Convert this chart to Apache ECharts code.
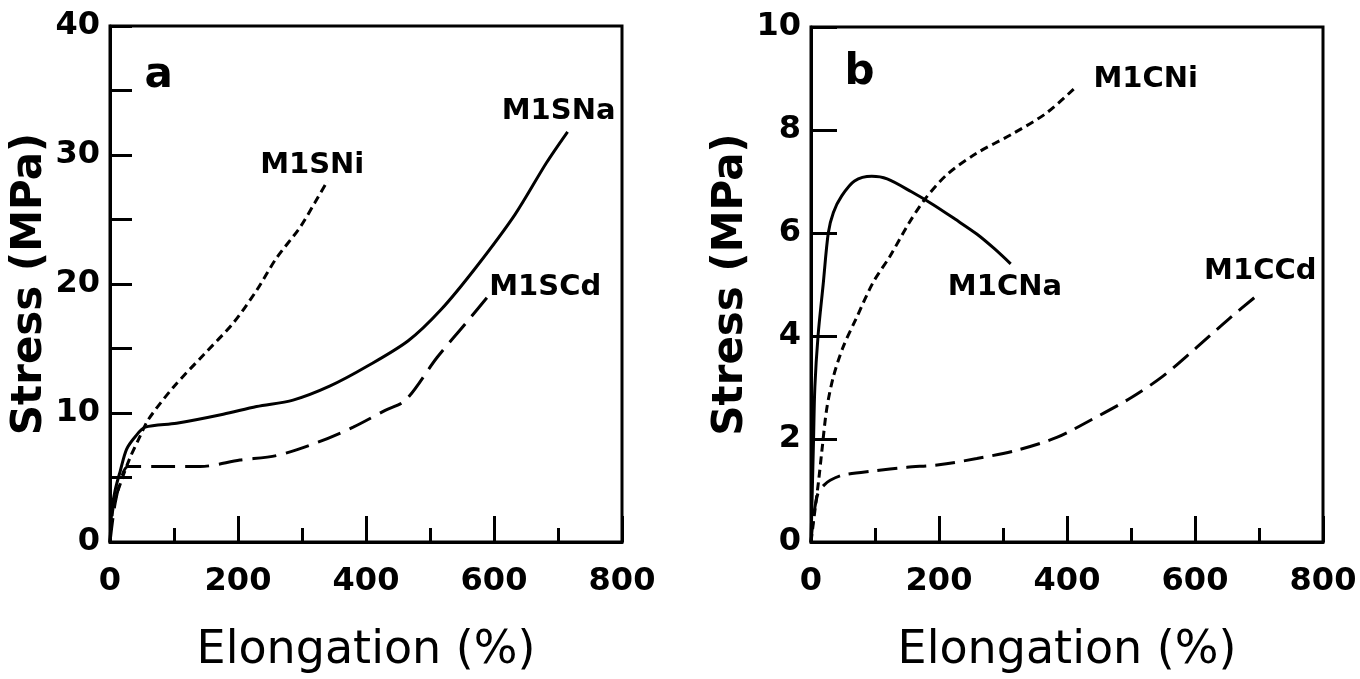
<!DOCTYPE html>
<html>
<head>
<meta charset="utf-8">
<script src="https://cdn.jsdelivr.net/npm/echarts@6/dist/echarts.min.js"></script>
<style>
html,body{margin:0;padding:0;background:#fff;}
#main{width:1360px;height:679px;}
</style>
</head>
<body>
<div id="main"></div>
<script>
// panel a: stress-strain, series as [elongation %, stress MPa]
var sNa = [[0,0],[3,2.5],[8,4],[16,5.5],[26,7.2],[40,8.2],[55,8.9],[104,9.2],[177,9.9],[229,10.5],[286,11],[344,12.1],[401,13.6],[466,15.6],[517,18],[572,21.3],[633,25.4],[682,29.4],[715,31.8]];
var sNi = [[0,0],[5,2.7],[16,4.5],[31,6.5],[47,8.2],[60,9.5],[99,12],[146,14.5],[193,17],[229,19.5],[260,22],[297,24.4],[320,26.3],[340,28]];
var sCd = [[0,0],[8,3],[18,5],[28,5.85],[73,5.85],[141,5.85],[203,6.35],[260,6.7],[323,7.7],[380,8.9],[430,10.2],[462,11],[511,14.3],[555,16.9],[590,19]];

// panel b
var cNa = [[0,0],[2,1],[4,2],[6,3],[11,4],[19,5],[27,6],[35,6.4],[48,6.72],[68,7.01],[95,7.1],[119,7.05],[157,6.8],[191,6.55],[225,6.27],[259,5.98],[287,5.69],[312,5.4]];
var cNi = [[0,0],[6,0.6],[12,1.2],[17,1.77],[24.5,2.58],[35,3.21],[50,3.78],[71,4.35],[97,5.04],[123,5.54],[152,6.17],[177,6.64],[212,7.13],[259,7.55],[314,7.92],[368,8.33],[416,8.86]];
var cCd = [[0,0],[4,0.5],[11,0.95],[20,1.1],[30,1.2],[50,1.3],[97,1.38],[150,1.45],[200,1.5],[259,1.62],[321,1.78],[384,2.03],[436,2.36],[500,2.8],[550,3.22],[600,3.75],[650,4.3],[703,4.85]];

// text labels inside plots: [text, x, y, panel]
var notes = [
	['a', 76, 36.1, 0],
	['M1SNa', 701, 33.4, 0],
	['M1SNi', 316, 29.2, 0],
	['M1SCd', 680, 19.7, 0],
	['b', 76, 9.1, 1],
	['M1CNi', 523, 8.98, 1],
	['M1CNa', 303, 4.94, 1],
	['M1CCd', 702, 5.25, 1]
];

var FONT = 'DejaVu Sans';
var chart = echarts.init(document.getElementById('main'));

function xAx(idx) {
	return {
		gridIndex: idx, type: 'value', min: 0, max: 800, interval: 200,
		name: 'Elongation (%)', nameLocation: 'middle', nameGap: 86,
		nameTextStyle: {fontFamily: FONT, fontSize: 46, color: '#000'},
		axisLine: {lineStyle: {color: '#000', width: 3}},
		axisTick: {inside: true, length: 26, lineStyle: {color: '#000', width: 3}},
		minorTick: {show: true, splitNumber: 2, length: 14, lineStyle: {color: '#000', width: 3}},
		axisLabel: {fontFamily: FONT, fontWeight: 'bold', fontSize: 32, color: '#000', margin: 24},
		splitLine: {show: false}
	};
}
function yAx(idx, max, step, minor, tlen) {
	return {
		gridIndex: idx, type: 'value', min: 0, max: max, interval: step,
		name: 'Stress (MPa)', nameLocation: 'middle', nameGap: 46,
		nameTextStyle: {fontFamily: FONT, fontWeight: 'bold', fontSize: 42, color: '#000'},
		axisLine: {lineStyle: {color: '#000', width: 3}},
		axisTick: {inside: true, length: tlen, lineStyle: {color: '#000', width: 3}},
		minorTick: {show: minor, splitNumber: 2, length: tlen, lineStyle: {color: '#000', width: 3}},
		axisLabel: {fontFamily: FONT, fontWeight: 'bold', fontSize: 32, color: '#000', margin: 10},
		splitLine: {show: false}
	};
}
function line(data, idx, dash) {
	return {
		type: 'line', xAxisIndex: idx, yAxisIndex: idx, data: data,
		smooth: 0.3, showSymbol: false, symbol: 'none',
		lineStyle: {color: '#000', width: 3, type: dash}
	};
}

var option = {
	backgroundColor: '#fff',
	animation: false,
	grid: [
		{left: 110, top: 26, width: 512, height: 530, show: true, borderColor: '#000', borderWidth: 3},
		{left: 811, top: 27, width: 512, height: 530, show: true, borderColor: '#000', borderWidth: 3}
	],
	xAxis: [xAx(0), xAx(1)],
	yAxis: [yAx(0, 40, 10, true, 22), yAx(1, 10, 2, false, 26)],
	series: [
		line(sNa, 0, 'solid'),
		line(sNi, 0, [8, 5]),
		line(sCd, 0, [24, 10]),
		line(cNa, 1, 'solid'),
		line(cNi, 1, [8, 5]),
		line(cCd, 1, [20, 9])
	]
};
chart.setOption(option);

var gr = [];
for (var i = 0; i < notes.length; i++) {
	var p = chart.convertToPixel({gridIndex: notes[i][3]}, [notes[i][1], notes[i][2]]);
	var big = notes[i][0].length == 1;
	gr.push({
		type: 'text', x: p[0], y: p[1],
		style: {
			text: notes[i][0], fill: '#000', align: 'center', verticalAlign: 'middle',
			font: 'bold ' + (big ? 42 : 29) + 'px "' + FONT + '"'
		}
	});
}
chart.setOption({graphic: gr});
</script>
</body>
</html>
